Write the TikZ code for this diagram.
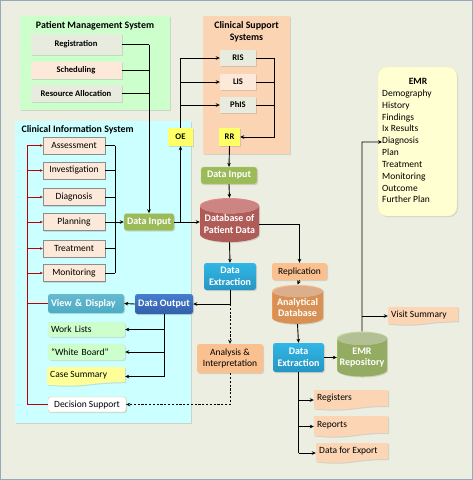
\documentclass[tikz,border=0pt]{standalone}
\usepackage{fontspec}
\setmainfont{Carlito}
\usetikzlibrary{arrows.meta,calc,shapes.geometric,shadows}
\definecolor{bgbeige}{RGB}{235,238,224}
\definecolor{framegray}{RGB}{150,168,185}
\definecolor{pmsgreen}{RGB}{204,255,204}
\definecolor{csspeach}{RGB}{251,212,180}
\definecolor{ciscyan}{RGB}{204,255,255}
\definecolor{greybox}{RGB}{232,236,222}
\definecolor{cispeach}{RGB}{253,233,217}
\definecolor{tagyellow}{RGB}{255,255,102}
\definecolor{wirered}{RGB}{192,0,0}
\definecolor{olive}{RGB}{155,187,89}
\definecolor{olivelight}{RGB}{195,214,155}
\definecolor{dbred}{RGB}{192,80,77}
\definecolor{dbpink}{RGB}{230,135,132}
\definecolor{cyanblue}{RGB}{49,182,229}
\definecolor{cyandark}{RGB}{38,150,195}
\definecolor{navyblue}{RGB}{70,125,205}
\definecolor{navydark}{RGB}{50,95,170}
\definecolor{tealblue}{RGB}{75,172,198}
\definecolor{lightorange}{RGB}{250,192,144}
\definecolor{deeporange}{RGB}{247,150,70}
\definecolor{paleorange}{RGB}{252,213,180}
\definecolor{paleyellow}{RGB}{255,255,153}
\definecolor{emryellow}{RGB}{255,255,210}

% document shape with a wavy bottom: name, x, y, width, height, fill, text
\newcommand{\docnode}[7]{%
  \fill[#6, drop shadow={shadow xshift=1pt, shadow yshift=-1pt, opacity=0.25}]
    ({#2-#4/2},{#3-#5/2}) -- ({#2+#4/2},{#3-#5/2}) -- ({#2+#4/2},{#3+0.30*#5})
    .. controls ({#2},{#3+0.30*#5}) and ({#2},{#3+0.61*#5}) .. ({#2-#4/2},{#3+0.43*#5}) -- cycle;
  \node[rectangle, inner sep=0pt, minimum width=#4, minimum height=#5] (#1) at (#2,#3) {};
  \node[anchor=west, inner sep=0pt, font=\fontsize{9.5}{11}\selectfont] (#1txt) at ({#2-#4/2+3},{#3-0.08*#5}) {#7};
}

\begin{document}
\begin{tikzpicture}[x=1pt, y=-1pt, >={Stealth[length=4pt,width=3.6pt]},
    wire/.style={line width=0.9pt},
    redwire/.style={line width=0.9pt, draw=wirered},
    dashwire/.style={line width=0.9pt, dash pattern=on 2.2pt off 1.6pt},
    lift/.style={drop shadow={shadow xshift=1pt, shadow yshift=-1pt, opacity=0.25}},
    paneltitle/.style={font=\fontsize{9.9}{12}\selectfont\bfseries, align=center},
    sysbox/.style={rectangle, inner sep=0pt, lift, font=\fontsize{8.6}{10}\selectfont\bfseries},
    tagbox/.style={rectangle, inner sep=0pt, fill=tagyellow, minimum width=25, minimum height=18, lift, font=\fontsize{8.6}{10}\selectfont\bfseries},
    cisbox/.style={rectangle, inner sep=0pt, draw=black!45, fill=cispeach, minimum width=62, minimum height=17, lift, font=\fontsize{9.5}{11}\selectfont},
    flowbox/.style={rectangle, rounded corners=2.5pt, inner sep=0pt, align=center, lift, text=white, font=\fontsize{10}{11.5}\selectfont\bfseries},
    softbox/.style={rectangle, rounded corners=2.5pt, inner sep=0pt, align=center, lift, font=\fontsize{9.5}{11}\selectfont},
    dbstore/.style={cylinder, shape border rotate=90, aspect=0.3, inner sep=0pt, align=center, lift, text=white, font=\fontsize{10}{11.5}\selectfont\bfseries, cylinder uses custom fill}
  ]
    % Background
    \useasboundingbox (0,0) rectangle (473,480);
    \draw[draw=framegray, fill=bgbeige] (0.5,0.5) rectangle (472.5,479.5);

    % Panels
    \node[rectangle, inner sep=0pt, fill=pmsgreen, minimum width=150, minimum height=94, lift] (pms) at (95,63) {};
    \node[paneltitle] (pmstitle) at (95,26) {Patient Management System};
    \node[rectangle, inner sep=0pt, fill=csspeach, minimum width=87, minimum height=138, lift] (css) at (246.5,85) {};
    \node[paneltitle] (csstitle) at (246.5,32) {Clinical Support\\Systems};
    \node[rectangle, inner sep=0pt, fill=ciscyan, minimum width=176, minimum height=302, lift] (cis) at (103,272) {};
    \node[paneltitle, anchor=west] (cistitle) at (18,130) {Clinical Information System};

    % Patient management boxes
    \node[sysbox, fill=greybox, minimum width=91, minimum height=21] (reg) at (76,44.5) {Registration};
    \node[sysbox, fill=cispeach, minimum width=91, minimum height=17] (sched) at (76,70.5) {Scheduling};
    \node[sysbox, fill=greybox, minimum width=91, minimum height=17] (res) at (76,93.5) {Resource Allocation};

    % Clinical support boxes
    \node[sysbox, fill=greybox, minimum width=36, minimum height=16] (ris) at (238,58) {RIS};
    \node[sysbox, fill=cispeach, minimum width=36, minimum height=16] (lis) at (238,82) {LIS};
    \node[sysbox, fill=greybox, minimum width=36, minimum height=16] (phis) at (238,105) {PhIS};
    \node[tagbox, minimum width=21] (rr) at (229.5,137) {RR};
    \node[tagbox] (oe) at (180.5,137) {OE};

    % Clinical information boxes
    \node[cisbox] (assess) at (74,145.5) {Assessment};
    \node[cisbox] (invest) at (74,170.5) {Investigation};
    \node[cisbox] (diag) at (74,197) {Diagnosis};
    \node[cisbox] (plan) at (74,222) {Planning};
    \node[cisbox] (treat) at (74,248.5) {Treatment};
    \node[cisbox] (monit) at (74,273) {Monitoring};
    \node[flowbox, fill=olive, draw=olivelight, minimum width=50, minimum height=17] (dinA) at (149,222) {Data Input};
    \node[flowbox, top color=tealblue!85!white, bottom color=tealblue, minimum width=76, minimum height=19, text width=70, align=left] (view) at (86,303.5) {View \& Display};
    \node[flowbox, top color=navyblue, bottom color=navydark, minimum width=58, minimum height=20] (dout) at (164,304) {Data Output};
    \node[softbox, fill=pmsgreen, draw=pmsgreen!80!black!40, minimum width=77, minimum height=15, text width=71, align=left] (work) at (86.5,329.5) {Work Lists};
    \node[softbox, fill=pmsgreen, draw=pmsgreen!80!black!40, minimum width=77, minimum height=16, text width=71, align=left] (white) at (86.5,352) {``White Board''};
    \docnode{case}{86}{376.5}{78}{19}{paleyellow}{Case Summary}
    \node[softbox, fill=white, draw=lightorange, minimum width=78, minimum height=15] (decide) at (87,404.5) {Decision Support};

    % Central flow
    \node[flowbox, fill=olive, draw=olivelight, minimum width=56, minimum height=17] (dinB) at (229,175.5) {Data Input};
    \node[dbstore, cylinder body fill=dbred, cylinder end fill=dbpink, minimum width=59, minimum height=44] (db) at (229.5,224) {Database of\\Patient Data};
    \node[flowbox, top color=cyanblue, bottom color=cyandark, minimum width=52, minimum height=27] (dexA) at (230,276.5) {Data\\Extraction};
    \node[softbox, fill=lightorange, minimum width=66, minimum height=29] (analysis) at (230,358.5) {Analysis \&\\Interpretation};
    \node[softbox, fill=lightorange, minimum width=55, minimum height=17] (repl) at (299.5,271.5) {Replication};
    \node[dbstore, cylinder body fill=deeporange, cylinder end fill=lightorange, minimum width=51, minimum height=39] (adb) at (297.5,307.5) {Analytical\\Database};
    \node[flowbox, top color=cyanblue, bottom color=cyandark, minimum width=51, minimum height=29] (dexB) at (298.5,357.5) {Data\\Extraction};
    \node[dbstore, cylinder body fill=olive, cylinder end fill=olivelight, minimum width=50, minimum height=45] (emrrep) at (362,357.5) {EMR\\Repository};

    % Outputs
    \docnode{visit}{423}{316}{70}{18}{paleorange}{Visit Summary}
    \docnode{regs}{351}{400}{74}{20}{paleorange}{Registers}
    \docnode{reps}{351}{426.5}{74}{21}{paleorange}{Reports}
    \docnode{export}{352}{453}{72}{20}{paleorange}{Data for Export}

    % EMR record
    \node[rectangle, rounded corners=9pt, fill=emryellow, draw=emryellow!85!orange, minimum width=79, minimum height=149, lift] (emr) at (417.5,141.5) {};
    \node[font=\fontsize{9.6}{11}\selectfont\bfseries] (emrtitle) at (418,81) {EMR};
    \node[anchor=north west, inner sep=0pt, align=left, font=\fontsize{9.5}{11.85}\selectfont] (emrlist) at (382,89.5)
        {Demography\\History\\Findings\\Ix Results\\Diagnosis\\Plan\\Treatment\\Monitoring\\Outcome\\Further Plan};

    % Patient management to data input
    \draw[wire] (reg.east) -- (149,44.5) coordinate (pmsbus);
    \draw[wire] (sched.east) -- (149,70.5);
    \draw[wire] (res.east) -- (149,93.5);
    \draw[wire, ->] (pmsbus) -- (dinA.north);

    % Order entry and results reporting
    \draw[wire, ->] (oe.north) -- (oe.north |- ris.west) -- (ris.west);
    \draw[wire, ->] (oe.north |- lis.west) -- (lis.west);
    \draw[wire, ->] (oe.north |- phis.west) -- (phis.west);
    \draw[wire] (ris.east) -- (274,58) coordinate (cssbus);
    \draw[wire] (lis.east) -- (lis.east -| cssbus);
    \draw[wire] (phis.east) -- (phis.east -| cssbus);
    \draw[wire, ->] (cssbus) -- (cssbus |- rr.east) -- (rr.east);
    \draw[wire, ->] (rr.south) -- (dinB.north);
    \draw[wire, ->] (dinB.south) -- (db.north);

    % Clinical information to data input
    \draw[wire] (assess.east) -- (115,145.5) coordinate (cisbus);
    \foreach \item in {invest,diag,treat,monit}
        \draw[wire] (\item.east) -- (\item.east -| cisbus);
    \draw[wire] (cisbus) -- (cisbus |- monit.east);
    \draw[wire, ->] (plan.east) -- (dinA.west);
    \draw[wire, ->] (dinA.east) -- (dinA.east -| db.west);
    \draw[wire, ->] (dinA.east -| oe.south) -- (oe.south);

    % Red feedback line
    \draw[redwire] (27,145.5) coordinate (redtop) -- (redtop |- decide.west) -- (decide.west);
    \foreach \item in {assess,invest,diag,plan,treat,monit}
        \draw[redwire, -{Stealth[length=3pt,width=2.6pt]}] (redtop |- \item.west) -- (\item.west);
    \draw[redwire] (redtop |- view.west) -- (view.west);

    % Database outputs
    \draw[wire, ->] (db.south) -- (dexA.north);
    \draw[wire] (dexA.south) -- (dexA.south |- dout.east) coordinate (outsplit);
    \draw[wire, ->] (outsplit) -- (dout.east);
    \draw[wire, ->] (dout.west) -- (view.east);
    \draw[wire] (dout.south) -- (dout.south |- case.east);
    \foreach \item in {work,white,case}
        \draw[wire, ->] (dout.south |- \item.east) -- (\item.east);
    \draw[dashwire, ->] (outsplit) -- (analysis.north);
    \draw[dashwire, ->] (analysis.south) -- (analysis.south |- decide.east) -- (decide.east);

    % Analytical branch
    \draw[wire, ->] (db.east) -- (db.east -| repl.north) -- (repl.north);
    \draw[wire, ->] (repl.south) -- (adb.north);
    \draw[wire, ->] (adb.south) -- (dexB.north);
    \draw[wire, ->] (dexB.east) -- (emrrep.west);
    \draw[wire] (dexB.south) -- (dexB.south |- export.west);
    \foreach \item in {regs,reps,export}
        \draw[wire, ->] (dexB.south |- \item.west) -- (\item.west);
    \draw[wire, ->] (emrrep.north) -- (362,142) -- (382,142);
    \draw[wire, ->] (emrrep.north |- visit.west) -- (visit.west);
\end{tikzpicture}
\end{document}
